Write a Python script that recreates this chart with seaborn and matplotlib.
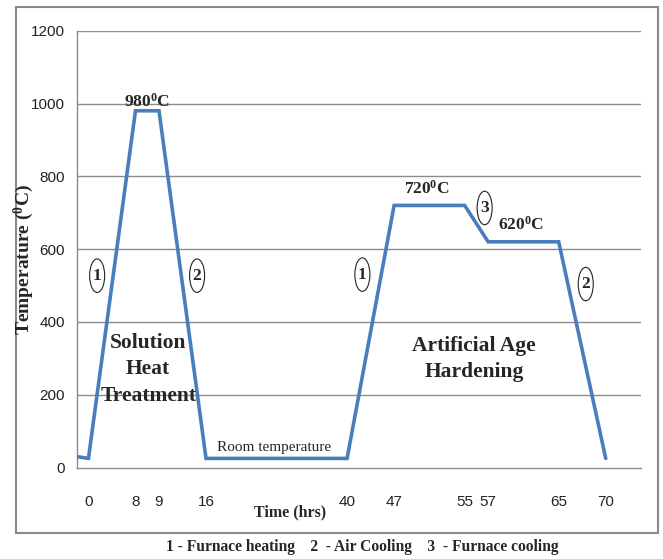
import matplotlib
matplotlib.use("Agg")
import matplotlib.pyplot as plt
import seaborn as sns
import pandas as pd
from matplotlib.patches import Rectangle, Ellipse

# ---- data ----
categories = ['0', '', '8', '9', '', '16', '', '', '', '', '', '40', '', '47',
              '', '', '55', '57', '', '', '65', '', '70', '']
times = [0, 8, 9, 16, 40, 47, 55, 57, 65, 70]
temps = [25, 980, 980, 25, 25, 720, 720, 620, 620, 25]
start_temp = 30
yticks = [0, 200, 400, 600, 800, 1000, 1200]
stage_marks = ['1', '2', '1', '2', '3']

slots = [categories.index(str(t)) for t in times]
df = pd.DataFrame({"slot": slots, "temp": temps})

sns.set_theme(style="white")
plt.rcParams['mathtext.fontset'] = 'custom'
plt.rcParams['mathtext.rm'] = 'Liberation Serif:bold'
plt.rcParams['mathtext.bf'] = 'Liberation Serif:bold'
plt.rcParams['mathtext.it'] = 'Liberation Serif:bold'

fig = plt.figure(figsize=(6.63, 5.59), dpi=100)
ax = fig.add_axes([76.7/663, 1-467.5/559, (641-76.7)/663, (467.5-30.7)/559])

blue = '#4A7EBB'
grid = '#8C8C8C'
ax.set_xlim(-0.5, len(categories)-0.5)
ax.set_ylim(0, 1200)
ax.set_yticks(yticks)
for y in yticks[1:]:
    ax.axhline(y, color=grid, lw=1.0, zorder=0)

ax.plot([ax.get_xlim()[0], slots[0]], [start_temp, temps[0]], color=blue, lw=2.6,
        solid_joinstyle='miter', zorder=3)
sns.lineplot(data=df, x="slot", y="temp", sort=False, color=blue, lw=2.6, ax=ax,
             zorder=3)
for l in ax.lines:
    l.set_solid_joinstyle('miter')

ax.set_xlabel('')
ax.set_ylabel('')
for s in ['top', 'right']:
    ax.spines[s].set_visible(False)
for s in ['left', 'bottom']:
    ax.spines[s].set_color(grid)
    ax.spines[s].set_linewidth(1.0)

tickfont = ['Liberation Sans Narrow', 'Liberation Sans']
ax.set_xticks(range(len(categories)))
ax.set_xticklabels(categories, family=tickfont, fontsize=11, color='#222222')
ax.set_xticks([i - 0.5 for i in range(len(categories)+1)], minor=True)
ax.tick_params(axis='x', which='major', length=0, pad=20)
ax.tick_params(axis='x', which='minor', length=4.5, width=1, color=grid, direction='out')
ax.tick_params(axis='y', which='major', length=3.5, width=1, color=grid, direction='out',
               pad=5, labelsize=11)
for t in ax.get_yticklabels():
    t.set_family(tickfont)
    t.set_color('#222222')

serif = 'Liberation Serif'
ax.text(2.5, 1006, r'980$^{0}$C', ha='center', va='center', fontsize=12.5,
        family=serif, fontweight='bold')
ax.text(14.4, 767, r'720$^{0}$C', ha='center', va='center', fontsize=12.5,
        family=serif, fontweight='bold')
ax.text(18.4, 666, r'620$^{0}$C', ha='center', va='center', fontsize=12.5,
        family=serif, fontweight='bold')
ax.text(2.54, 270, 'Solution\nHeat\nTreatment', ha='center', va='center',
        fontsize=15.5, family=serif, fontweight='bold', linespacing=1.42)
ax.text(16.4, 299, 'Artificial Age\nHardening', ha='center', va='center',
        fontsize=15.5, family=serif, fontweight='bold', linespacing=1.42)
ax.text(5.47, 56, 'Room temperature', ha='left', va='center', fontsize=11,
        family=serif)

mark_pos = [(0.37, 527), (4.62, 527), (11.65, 530), (21.15, 504), (16.85, 713)]
for (x, y), s in zip(mark_pos, stage_marks):
    ax.add_patch(Ellipse((x, y), 0.64, 92, fc='white', ec='#222222', lw=0.8,
                         zorder=4))
    ax.text(x, y, s, ha='center', va='center', fontsize=12.5, family=serif,
            fontweight='bold', zorder=5)

fig.text(290/663, 1-512/559, 'Time (hrs)', ha='center', va='center', fontsize=11.5,
         family=serif, fontweight='bold')
fig.text(24/663, 1-259/559, r'Temperature ($^{0}$C)', ha='center', va='center',
         rotation=90, fontsize=14, family=serif, fontweight='bold')
fig.text(362/663, 1-547/559,
         '1 - Furnace heating    2  - Air Cooling    3  - Furnace cooling',
         ha='center', va='center', fontsize=11.2, family=serif, fontweight='bold')

fig.patches.append(Rectangle((15.7/663, 1-533/559), (658-15.7)/663, (533-7.3)/559,
                             transform=fig.transFigure, fill=False, ec='#8A8A8A',
                             lw=1.5))

fig.savefig('out.png', dpi=100)
